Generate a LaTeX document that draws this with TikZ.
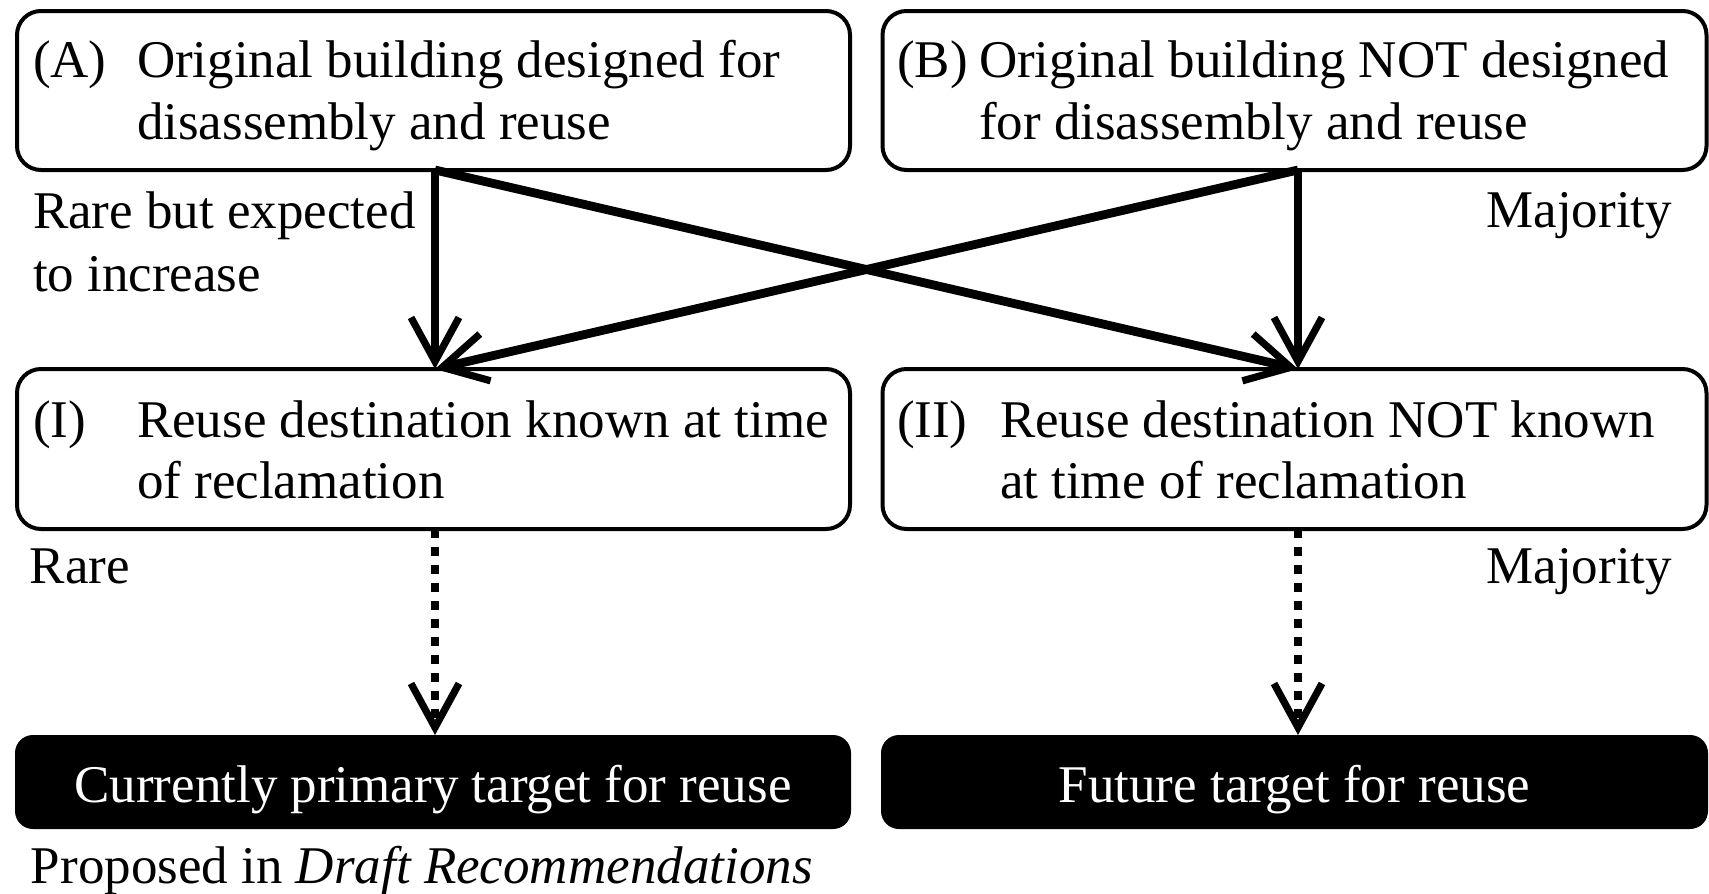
\documentclass[tikz,border=0pt]{standalone}
\usepackage{fontspec}
\setmainfont{Liberation Serif}
\usetikzlibrary{arrows.meta}
\begin{document}
\begin{tikzpicture}[x=0.5pt,y=-0.5pt,
  every node/.style={inner sep=0pt, outer sep=0pt, font=\fontsize{26.5pt}{32pt}\selectfont},
  wbox/.style={draw=black, line width=2pt, rounded corners=12pt, fill=white, minimum width=416.5pt, minimum height=79.5pt},
  bbox/.style={fill=black, rounded corners=9pt, minimum width=418pt, minimum height=47pt, text=white},
  txt/.style={anchor=base west},
  rtxt/.style={anchor=base east},
  barb/.style={-{Straight Barb[length=22pt,width=24pt,line width=3.6pt]}},
  solidarrow/.style={barb, line width=3.6pt},
  crossarrow/.style={barb, line width=4.4pt},
  dotarrow/.style={barb, line width=4.4pt, dash pattern=on 4.4pt off 4.6pt}
]
\useasboundingbox (0,0) rectangle (1709,894);
% boxes
\node[wbox] (A) at (433.5,90.5) {};
\node[wbox, minimum width=412pt] (B) at (1294.5,90.5) {};
\node[wbox, minimum height=80pt] (I) at (433.5,449) {};
\node[wbox, minimum width=412pt, minimum height=80pt] (II) at (1294.5,449) {};
\node[bbox] (P) at (433,782) {};
\node[bbox, minimum width=413.5pt] (F) at (1294.5,782) {};
% connection points
\coordinate (As) at (435,170);
\coordinate (Bs) at (1298,170);
\coordinate (It) at (435,369);
\coordinate (IIt) at (1298,369);
\coordinate (Ib) at (435,529);
\coordinate (IIb) at (1298,529);
\coordinate (Pt) at (435,735);
\coordinate (Ft) at (1298,735);
% arrows
\draw[solidarrow] (As) -- (It);
\draw[solidarrow] (Bs) -- (IIt);
\draw[crossarrow] (As) -- (IIt);
\draw[crossarrow] (Bs) -- (It);
\draw[dotarrow] (Ib) -- (Pt);
\draw[dotarrow] (IIb) -- (Ft);
% box texts
\node[txt] (tA) at (33,77) {(A)};
\node[txt] (tA1) at (137,77) {Original building designed for};
\node[txt] (tA2) at (137,139) {disassembly and reuse};
\node[txt] (tB) at (897,77) {(B)};
\node[txt] (tB1) at (979,77) {Original building NOT designed};
\node[txt] (tB2) at (979,139) {for disassembly and reuse};
\node[txt] (tI) at (33,437) {(I)};
\node[txt] (tI1) at (137,437) {Reuse destination known at time};
\node[txt] (tI2) at (137,498) {of reclamation};
\node[txt] (tII) at (897,437) {(II)};
\node[txt] (tII1) at (1000,437) {Reuse destination NOT known};
\node[txt] (tII2) at (1000,498) {at time of reclamation};
\node[anchor=base, text=white] (tP) at (433,802) {Currently primary target for reuse};
\node[anchor=base, text=white] (tF) at (1294.5,802) {Future target for reuse};
% side labels
\node[txt] (l1) at (33,228) {Rare but expected};
\node[txt] (l2) at (33,291) {to increase};
\node[rtxt] (l3) at (1672,227) {Majority};
\node[txt] (l4) at (30,583) {Rare};
\node[rtxt] (l5) at (1672,583) {Majority};
\node[txt] (l6) at (31,883) {Proposed in \textit{Draft Recommendations}};
\end{tikzpicture}
\end{document}
